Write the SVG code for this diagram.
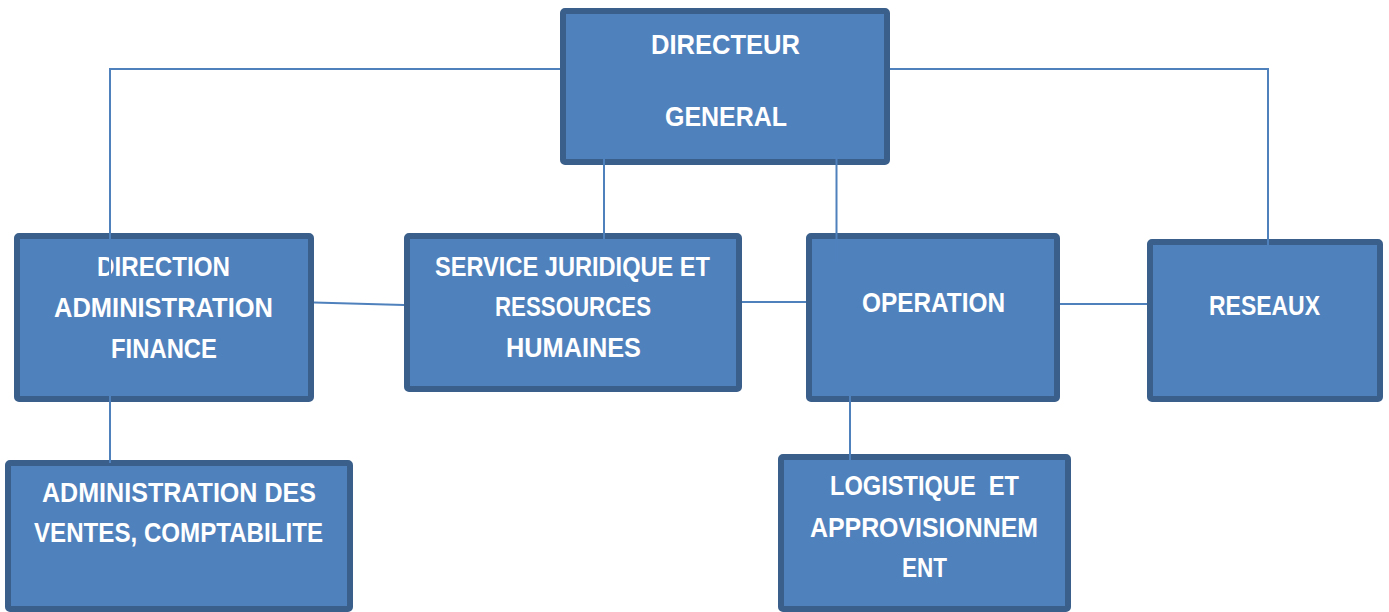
<svg xmlns="http://www.w3.org/2000/svg" width="1389" height="612" viewBox="0 0 1389 612">
<style>
.box{fill:#4F81BD;stroke:#3A5F8B;stroke-width:6}
.lbl{fill:#FFFFFF;font-family:"Liberation Sans",Arial,sans-serif;font-weight:bold;font-size:28px;text-anchor:middle}
.conn{fill:none;stroke:#4F81BD;stroke-width:2}
</style>
<rect width="1389" height="612" fill="#FFFFFF"/>
<g id="directeur-general">
<rect class="box" x="563" y="11" width="324" height="151" rx="2"/>
<text class="lbl" x="725.5" y="54" textLength="149" lengthAdjust="spacingAndGlyphs">DIRECTEUR</text>
<text class="lbl" x="726" y="126" textLength="122" lengthAdjust="spacingAndGlyphs">GENERAL</text>
</g>
<g id="direction-administration-finance">
<rect class="box" x="17" y="236" width="294" height="163" rx="2"/>
<text class="lbl" x="163.5" y="276" textLength="133" lengthAdjust="spacingAndGlyphs">DIRECTION</text>
<text class="lbl" x="163.5" y="317" textLength="219" lengthAdjust="spacingAndGlyphs">ADMINISTRATION</text>
<text class="lbl" x="164" y="358" textLength="106" lengthAdjust="spacingAndGlyphs">FINANCE</text>
</g>
<g id="service-juridique">
<rect class="box" x="407" y="236" width="332" height="153" rx="2"/>
<text class="lbl" x="572.5" y="276" textLength="275" lengthAdjust="spacingAndGlyphs">SERVICE JURIDIQUE ET</text>
<text class="lbl" x="573" y="316" textLength="156" lengthAdjust="spacingAndGlyphs">RESSOURCES</text>
<text class="lbl" x="573.5" y="357" textLength="135" lengthAdjust="spacingAndGlyphs">HUMAINES</text>
</g>
<g id="operation">
<rect class="box" x="809" y="236" width="248" height="163" rx="2"/>
<text class="lbl" x="933.5" y="312" textLength="143" lengthAdjust="spacingAndGlyphs">OPERATION</text>
</g>
<g id="reseaux">
<rect class="box" x="1150" y="242" width="230" height="157" rx="2"/>
<text class="lbl" x="1264.5" y="315" textLength="111" lengthAdjust="spacingAndGlyphs">RESEAUX</text>
</g>
<g id="administration-ventes">
<rect class="box" x="8" y="463" width="342" height="146" rx="2"/>
<text class="lbl" x="179" y="502" textLength="274" lengthAdjust="spacingAndGlyphs">ADMINISTRATION DES</text>
<text class="lbl" x="178.5" y="542" textLength="289" lengthAdjust="spacingAndGlyphs">VENTES, COMPTABILITE</text>
</g>
<g id="logistique">
<rect class="box" x="781" y="457" width="287" height="152" rx="2"/>
<text class="lbl" x="924.5" y="495" textLength="189" lengthAdjust="spacingAndGlyphs" xml:space="preserve">LOGISTIQUE  ET</text>
<text class="lbl" x="924" y="537" textLength="228" lengthAdjust="spacingAndGlyphs">APPROVISIONNEM</text>
<text class="lbl" x="924.5" y="577" textLength="45" lengthAdjust="spacingAndGlyphs">ENT</text>
</g>
<g id="connectors">
<polyline class="conn" points="560,69 110,69 110,275"/>
<polyline class="conn" points="890,69 1268,69 1268,263"/>
<line class="conn" x1="604" y1="158" x2="604" y2="257"/>
<line class="conn" x1="836.5" y1="158" x2="836.5" y2="262"/>
<line class="conn" x1="110" y1="380" x2="110" y2="463"/>
<line class="conn" x1="850" y1="380" x2="850" y2="467"/>
<line class="conn" x1="314" y1="302.5" x2="404" y2="305"/>
<line class="conn" x1="742" y1="302" x2="806" y2="302"/>
<line class="conn" x1="1060" y1="304" x2="1147" y2="304"/>
</g>
</svg>
